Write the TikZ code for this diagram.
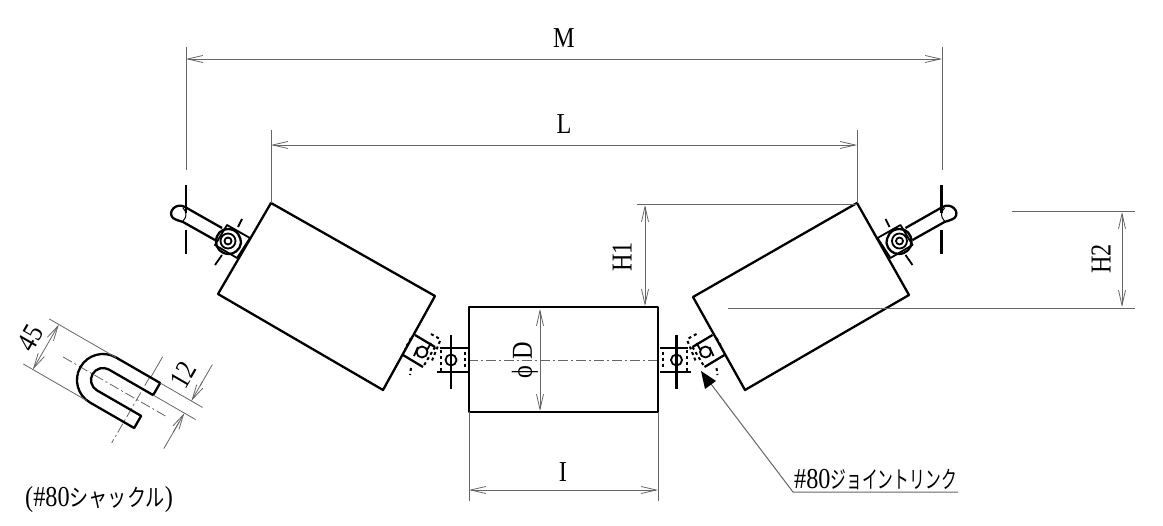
\documentclass[tikz,border=0pt]{standalone}
\usepackage{fontspec}
\usepackage{graphicx}
\setmainfont{Liberation Serif}
\newfontfamily\cjkfont{Noto Sans CJK JP}
\usetikzlibrary{arrows.meta}
\definecolor{dimgray}{gray}{0.40}
\tikzset{
  thick outline/.style={line width=2.3bp,black,line join=round},
  mid outline/.style={line width=1.8bp,black,line join=round},
  dim line/.style={line width=0.8bp,dimgray},
  dim arrow/.style={dim line,{Straight Barb[length=15bp,width=7bp]}-{Straight Barb[length=15bp,width=7bp]}},
  dim tip/.style={dim line,-{Straight Barb[length=15bp,width=7bp]}},
  center line/.style={line width=0.8bp,dimgray,dash pattern=on 10bp off 3bp on 2bp off 3bp},
  dots/.style={line width=2bp,black,dash pattern=on 3bp off 3bp},
  lbl/.style={inner sep=0pt,font=\fontsize{29}{29}\selectfont,black},
  every node/.style={inner sep=0pt}
}
\newcommand{\latn}[1]{\scalebox{.84}[1]{#1}}
\newcommand{\kana}[1]{\scalebox{.66}[1]{\cjkfont\fontsize{24}{24}\selectfont #1}}
\newcommand{\kanawide}[1]{\scalebox{.8}[1]{\cjkfont\fontsize{24}{24}\selectfont #1}}
\newcommand{\halfset}{%
  % upper hanger line and shackle
  \draw[thick outline] (186,185)--(186,213) (186,230)--(186,254);
  \draw[thick outline] (222,228)--(185,207) .. controls (176,202) and (167,212) .. (173,218) .. controls (176,220) and (180,221) .. (183,222)--(215,240);
  \draw[mid outline,line width=1bp] (183,208) .. controls (187,212) and (187,217) .. (183,221);
  % upper link
  \draw[mid outline] (227,225)--(250,238)--(237,258)--(215,245)--cycle;
  \draw[mid outline] (242,219)--(238,227) (222,255)--(215,265);
  \draw[thick outline] (228,229) .. controls (238,229) and (241,238) .. (241,243) .. controls (240,250) and (234,254) .. (229,254) .. controls (221,254) and (216,248) .. (216,242) .. controls (216,234) and (221,229) .. (228,229)--cycle;
  \draw[mid outline] (228,241) circle[radius=7.5bp];
  \draw[mid outline] (228,241) circle[radius=3.5bp];
  % lower angled link
  \draw[thick outline] (415,335)--(435,347) (403,355)--(423,367);
  \draw[dots] (435,347)--(423,367) (411,338)--(405,349) (440,341)--(431,363);
  \draw[dots] (411,368)--(410,375) (431,334)--(440,339);
  \draw[mid outline] (422,352) circle[radius=5.5bp];
  \draw[mid outline] (418,347)--(414,356) (427,350)--(431,343);
  % lower straight link
  \draw[thick outline] (440,348)--(468,348) (437,372)--(468,372);
  \draw[dots] (441,350)--(441,372) (465,352)--(465,370);
  \draw[thick outline] (451,335)--(451,389);
  \draw[mid outline] (451,360) circle[radius=5.5bp];
}
\begin{document}
\begin{tikzpicture}[x=1bp,y=-1bp]
\useasboundingbox (0,0) rectangle (1163,526);
\fill[white] (0,0) rectangle (1163,526);

% center lines
\draw[center line] (468,360)--(660,360);

% rollers
\draw[thick outline] (271,203)--(435,296)--(383,390)--(218,294)--cycle;
\draw[thick outline] (857,203)--(909,295)--(745,390)--(693,297)--cycle;
\draw[thick outline] (469,307) rectangle (658,412);

\halfset
\begin{scope}[shift={(1127.5,0)},xscale=-1]
\halfset
\end{scope}

% dimensions
\coordinate (mA) at (186,59); \coordinate (mB) at (942,59);
\draw[dim arrow] (mA)--(mB);
\draw[dim line] (186,47)--(186,170) (942,47)--(942,170);
\node[lbl] (mLabel) at (564,38) {\latn{M}};

\coordinate (lA) at (271,145); \coordinate (lB) at (857,145);
\draw[dim arrow] (lA)--(lB);
\draw[dim line] (271,130)--(271,203) (857,130)--(857,203);
\node[lbl] (lLabel) at (564,124) {\latn{L}};

\coordinate (hoA) at (645,205); \coordinate (hoB) at (645,306);
\draw[dim arrow] (hoA)--(hoB);
\draw[dim line] (637,204)--(857,204);
\node[lbl,rotate=90] (hoLabel) at (622,257) {\latn{H1}};

\coordinate (htA) at (1122,212); \coordinate (htB) at (1122,307);
\draw[dim arrow] (htA)--(htB);
\draw[dim line] (1012,211)--(1135,211) (728,308)--(1135,308);
\node[lbl,rotate=90] (htLabel) at (1101,259) {\latn{H2}};

\coordinate (dA) at (540,309); \coordinate (dB) at (540,411);
\draw[dim arrow] (dA)--(dB);
\node[lbl,rotate=90] (dLabel) at (525,360) {\latn{ϕ D}};

\coordinate (iA) at (469,490); \coordinate (iB) at (658,490);
\draw[dim arrow] (iA)--(iB);
\draw[dim line] (469,412)--(469,501) (658,412)--(658,501);
\node[lbl] (iLabel) at (563,472) {\latn{I}};

% joint link leader
\coordinate (jTip) at (701,371); \coordinate (jElbow) at (793,492); \coordinate (jEnd) at (958,492);
\draw[line width=1bp,dimgray] (jEnd)--(jElbow)--(711,384);
\fill[black] (jTip)--(716,381)--(705,389)--cycle;
\node[lbl,anchor=base west] (jLabel) at (794,488) {\latn{\#80}\kana{ジョイントリンク}};

% shackle
\begin{scope}[shift={(103,380)},rotate=-30]
  \draw[center line] (-46,0)--(73,0);
  \draw[center line] (39,-26)--(39,50);
  \draw[dim line] (40,-50)--(40,-26);
  \draw[thick outline,fill=none] (51,-26)--(0,-26) .. controls (-14.4,-26) and (-26,-14.4) .. (-26,0) .. controls (-26,14.4) and (-14.4,26) .. (0,26)--(51,26)--(51,12)--(0,12) .. controls (-6.6,12) and (-12,6.6) .. (-12,0) .. controls (-12,-6.6) and (-6.6,-12) .. (0,-12)--(51,-12)--cycle;
  \draw[dim line] (-77,-26)--(0,-26) (-77,26)--(-4,26);
  \draw[dim arrow] (-66,-26)--(-66,26);
  \draw[dim line] (51,-26)--(100,-26) (51,-12)--(100,-12);
  \draw[dim line] (87,-68)--(87,-44) (87,-2)--(87,29);
  \draw[dim tip] (87,-48)--(87,-26);
  \draw[dim tip] (87,10)--(87,-12);
\end{scope}
\node[lbl,rotate=60] (sdLabel) at (30,338) {\latn{45}};
\node[lbl,rotate=60] (stLabel) at (183,375) {\latn{12}};
\node[lbl,anchor=base west] (sLabel) at (25,506) {\latn{(\#80}\kanawide{シャックル}\latn{)}};
\end{tikzpicture}
\end{document}
